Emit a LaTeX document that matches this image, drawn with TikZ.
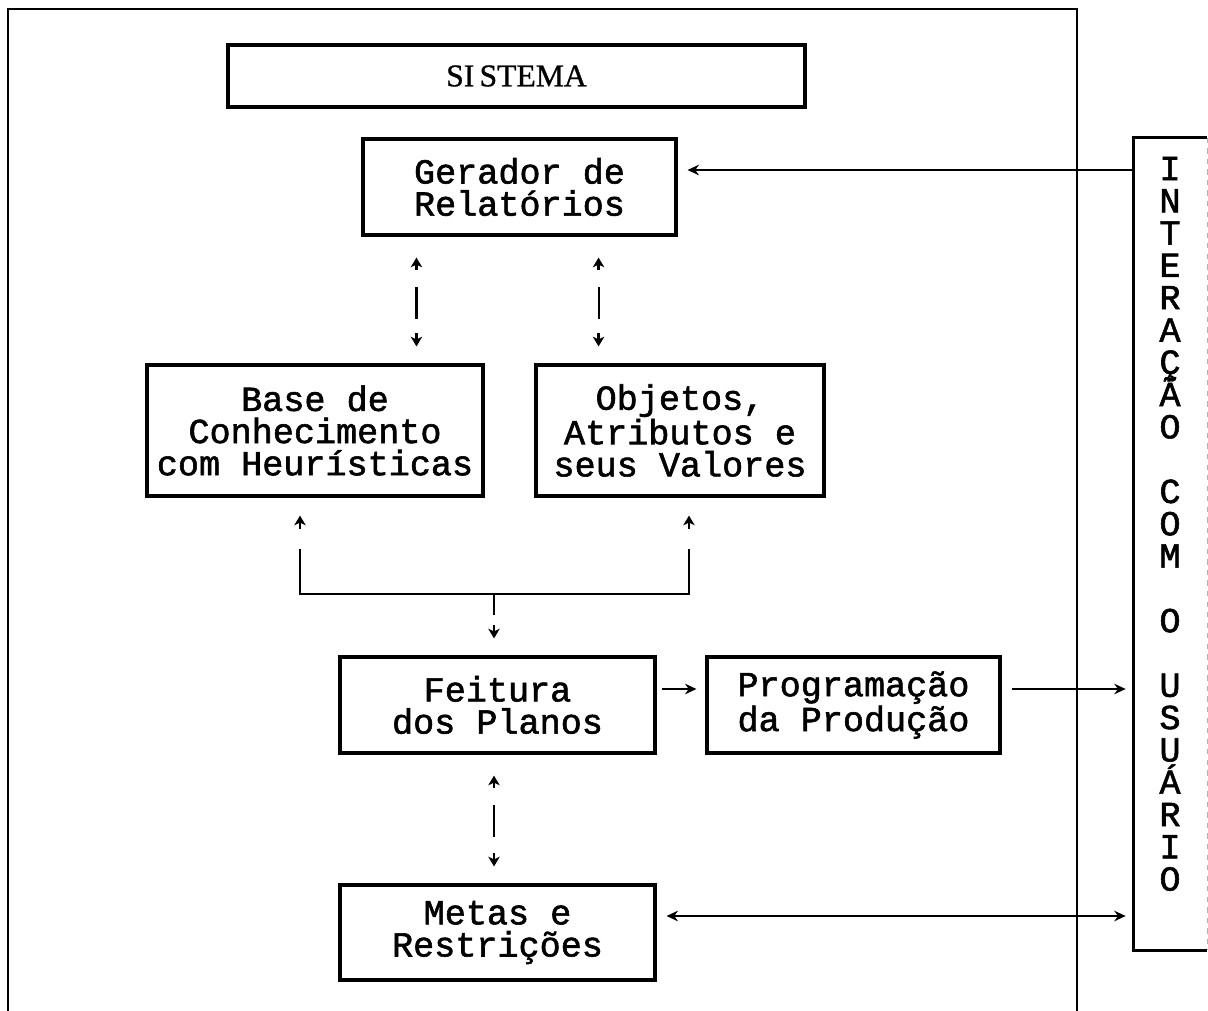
\documentclass[tikz,border=0pt]{standalone}
\usepackage{fontspec}
\setmainfont{Liberation Serif}
\newfontfamily\typer{Liberation Mono}[RawFeature={embolden=1.6}]
\newfontfamily\titlefont{Liberation Serif}[RawFeature={embolden=0.8}]
\usetikzlibrary{arrows.meta,calc}

% two-headed link drawn in three pieces: up tip, bar, down tip
\newcommand\brokenlink[2]{%
  \draw[tip] ($(#1)+(0,33)$) -- ($(#1)+(0,21)$);
  \draw[seg] ($(#1)+(0,50)$) -- ($(#1)+(0,82)$);
  \draw[tip] ($(#2)+(0,-30)$) -- ($(#2)+(0,-17)$);
}

\begin{document}
\begin{tikzpicture}[x=0.02cm,y=-0.02cm,
  box/.style={draw, line width=1.8pt, inner sep=0pt, align=center,
    font=\typer\fontsize{20}{18.3}\selectfont},
  arr/.style={line width=1.1pt, -{Stealth[length=6.5pt,width=6pt]}},
  darr/.style={line width=1.1pt, {Stealth[length=6.5pt,width=6pt]}-{Stealth[length=6.5pt,width=6pt]}},
  tip/.style={line width=1.3pt, -{Stealth[length=5.5pt,width=6.5pt,inset=1.5pt]}},
  seg/.style={line width=1.2pt},
  letter/.style={anchor=base, inner sep=0pt,
    font=\typer\fontsize{20}{20}\selectfont}]

\useasboundingbox (0,0) rectangle (1208,1011);
\fill[white] (0,0) rectangle (1208,1011);

% open frame around the system
\draw[line width=1.4pt] (8,1011) -- (8,9) -- (1077,9) -- (1077,1011);

% blocks
\node[box, minimum width=11.54cm, minimum height=1.24cm,
  font=\titlefont\fontsize{18}{20}\selectfont] (sis) at (516.5,76) {SI\kern3pt STEMA};
\node[box, minimum width=6.26cm, minimum height=1.92cm] (ger) at (519.5,187) {Gerador de\\Relatórios};
\node[box, minimum width=6.72cm, minimum height=2.62cm] (base) at (315,430.5) {Base de\\Conhecimento\\com Heurísticas};
\node[box, minimum width=5.76cm, minimum height=2.62cm] (obj) at (680,430.5) {Objetos,\\Atributos e\\seus Valores};
\node[box, minimum width=6.3cm, minimum height=1.92cm] (feit) at (497.5,705) {Feitura\\dos Planos};
\node[box, minimum width=5.86cm, minimum height=1.92cm] (prog) at (853.5,705) {Programação\\da Produção};
\node[box, minimum width=6.3cm, minimum height=1.9cm] (metas) at (497.5,932.5) {Metas e\\Restrições};

% user interaction column
\node[minimum width=1.46cm, minimum height=16.24cm, inner sep=0pt] (usr) at (1170.5,544) {};
\draw[line width=1.6pt] (usr.north east) -- (usr.north west) -- (usr.south west) -- (usr.south east);
\draw[gray!60, line width=0.6pt, dashed] (usr.north east) -- (usr.south east);
\foreach \ch [count=\i from 0] in {I,N,T,E,R,A,Ç,Ã,O,{},C,O,M,{},O,{},U,S,U,Á,R,I,O}
  \node[letter] (u\i) at (1170,{180+\i*32.3}) {\ch};

% user -> report generator
\coordinate (gin) at ($(ger.east)+(10,-17)$);
\draw[arr] (usr.west |- gin) -- (gin);

% report generator <-> knowledge base / objects
\coordinate (ga) at ($(ger.south west)+(55,0)$);
\coordinate (gb) at ($(ger.south east)+(-79,0)$);
\coordinate (ba) at (ga |- base.north);
\coordinate (oa) at (gb |- obj.north);
\brokenlink{ga}{ba}
\brokenlink{gb}{oa}

% knowledge base + objects -> plans
\coordinate (bl) at ($(base.south)+(-15,0)$);
\coordinate (br) at ($(obj.south)+(9,0)$);
\coordinate (bm) at ($(bl)+(0,96)$);
\coordinate (fm) at ($(feit.north)+(-3.5,0)$);
\draw[tip] ($(bl)+(0,31)$) -- ($(bl)+(0,18)$);
\draw[tip] ($(br)+(0,31)$) -- ($(br)+(0,18)$);
\draw[seg] ($(bl)+(0,51)$) -- (bm) -| ($(br)+(0,51)$);
\draw[seg] (fm |- bm) -- ++(0,21);
\draw[tip] ($(fm)+(0,-30)$) -- ($(fm)+(0,-17)$);

% plans <-> goals and constraints
\coordinate (fa) at ($(feit.south)+(-3.5,0)$);
\coordinate (ma) at (fa |- metas.north);
\brokenlink{fa}{ma}

% plans -> scheduling -> user
\draw[arr] ($(feit.east)+(5,-16)$) -- ($(prog.west)+(-9,-16)$);
\coordinate (pe) at ($(prog.east)+(10,-16)$);
\draw[arr, shorten >=0.16cm] (pe) -- (pe -| usr.west);

% goals and constraints <-> user
\coordinate (me) at ($(metas.east)+(10,-16.5)$);
\draw[darr, shorten >=0.16cm] (me) -- (me -| usr.west);

\end{tikzpicture}
\end{document}
